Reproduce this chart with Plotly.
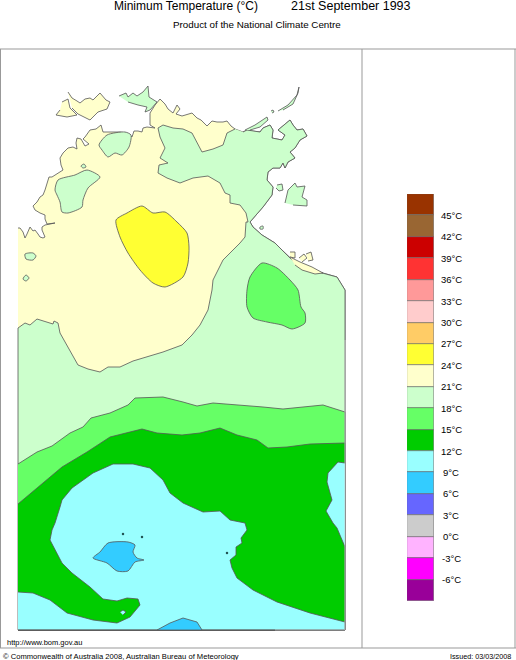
import plotly.graph_objects as go

# map regions, x/y in image pixels of the map sheet
coast_west = [(18,228),(20,228),(23,232),(25,238),(27,234),(30,227),(33,231),(35,230),(38,234),(40,237),(43,238),(45,237),(42,230),(42,227),(45,225),(50,224),(55,223),(47,224),(45,219),(45,215),(40,213),(35,210),(33,206),(37,202),(40,197),(43,195),(45,190),(49,177),(52,177),(58,173),(63,170),(61,165),(60,158),(63,153),(68,148),(73,147),(77,149),(76,143),(77,138),(81,139),(85,146),(89,144),(83,139),(85,137),(90,130),(96,129),(101,125),(103,132),(112,132),(120,132),(126,133),(130,135),(132,137),(134,131),(138,131),(142,132),(143,128),(147,127),(155,128),(150,125),(150,113),(155,105),(160,99),(165,104),(168,109),(173,113),(177,105),(180,109),(176,114),(182,116),(192,113),(197,118),(201,120),(207,126),(212,121),(217,122),(223,122),(227,121),(231,126),(235,129)]
coast_east = [(235,129),(243,132),(247,130),(252,131),(260,132),(263,128),(270,125),(273,130),(272,138),(282,140),(285,135),(278,130),(284,125),(290,120),(293,125),(297,130),(303,129),(307,136),(300,140),(295,148),(290,152),(295,158),(288,162),(285,168),(283,163),(280,168),(273,168),(268,172),(267,180),(273,187),(272,195),(263,207),(250,222),(253,227),(262,235),(275,243),(282,250),(290,258),(300,267),(323,273),(337,277),(345,290)]
green_north_edge = [(235,129),(227,133),(223,145),(213,149),(202,152),(197,143),(192,133),(183,129),(173,128),(163,125),(158,128),(160,137),(165,148),(160,158),(168,163),(159,165),(158,173),(167,178),(180,183),(193,178),(208,176),(220,183),(225,193),(230,195),(230,203),(240,205),(246,213),(248,222)]
green_south_edge = [(246,222),(245,237),(240,243),(233,250),(223,260),(213,280),(212,290),(208,310),(200,325),(192,335),(182,345),(163,352),(133,361),(120,367),(108,367),(100,372),(88,369),(78,365),(68,348),(60,333),(58,323),(54,321),(53,324),(37,319),(30,325),(25,323),(18,328)]
yellow_patch = [(116,220),(127,213),(142,206),(153,213),(165,212),(177,222),(187,233),(189,247),(188,263),(183,277),(165,287),(153,283),(140,270),(128,253),(120,237)]
kakadu_patch = [(99,145),(107,135),(125,132),(131,135),(129,147),(122,155),(115,153),(108,157),(102,150)]
daly_patch = [(55,190),(58,180),(75,175),(87,170),(100,177),(88,188),(83,200),(82,207),(68,213),(62,212),(60,202),(57,195)]
barkly_patch = [(247,290),(250,277),(262,263),(277,268),(290,280),(298,290),(301,307),(305,313),(305,323),(292,329),(282,325),(267,322),(253,318),(247,307)]
gulf_strip = [(290,257),(300,262),(312,267),(323,273),(315,274),(302,270),(295,265)]
melville = [(68,92),(72,98),(77,101),(80,103),(85,99),(90,98),(93,100),(100,93),(106,100),(110,102),(107,109),(98,112),(90,120),(78,114),(72,108)]
bathurst = [(62,102),(68,99),(70,108),(77,115),(67,117),(56,115),(60,110)]
cobourg = [(119,96),(126,93),(128,97),(133,93),(137,96),(143,92),(148,86),(149,97),(157,102),(150,110),(145,112),(147,107),(138,105),(128,102)]
wessel = [(278,111),(288,105),(297,95),(299,87),(298,93),(293,104),(283,110)]
crocodile = [(245,130),(255,125),(267,117),(268,120),(260,127),(250,130)]
north_isle = [(271,111),(273,110),(274,112),(272,113)]
groote = [(285,203),(288,190),(295,183),(297,187),(305,186),(302,197),(307,200),(307,206),(293,205)]
bickerton = [(277,185),(282,184),(283,190),(279,191),(276,188)]
west_islet_a = [(25,254),(33,253),(36,256),(33,260),(26,259)]
west_islet_b = [(23,279),(26,275),(29,278),(26,281)]
pellew_a = [(290,252),(295,252),(295,258),(290,257)]
pellew_b = [(299,258),(304,254),(307,258),(302,262)]
pellew_c = [(306,254),(311,252),(313,260),(308,261)]
daly_islet = [(81,166),(84,164),(86,167),(83,168)]
small_isle = [(260,227),(263,226),(263,229),(260,229)]
band_18_edge = [(18,464),(37,452),(52,446),(70,433),(83,427),(91,418),(110,413),(128,405),(135,398),(163,397),(183,402),(197,406),(213,403),(240,405),(263,407),(283,409),(300,407),(323,405),(345,412)]
band_15_edge = [(18,504),(38,487),(62,467),(87,452),(110,437),(142,429),(157,433),(182,435),(200,433),(220,428),(237,435),(257,440),(268,448),(287,447),(310,444),(345,443)]
cyan_main = [(18,592),(33,593),(50,600),(67,613),(93,620),(117,623),(130,617),(140,605),(138,599),(127,598),(117,601),(103,599),(90,587),(72,573),(62,563),(55,550),(50,540),(52,530),(55,523),(60,507),(62,500),(72,488),(93,473),(113,464),(133,464),(150,468),(163,480),(170,493),(183,503),(203,512),(220,511),(230,520),(245,523),(247,530),(245,533),(241,538),(242,543),(236,547),(236,555),(230,560),(232,568),(237,578),(253,590),(277,602),(310,613),(345,622),(345,630),(18,630)]
cyan_east = [(345,463),(338,462),(328,473),(327,482),(332,500),(326,511),(333,523),(337,528),(345,547)]
cyan_hole = [(120,612),(123,610),(126,612),(123,615)]
blue_patch = [(93,558),(100,552),(108,543),(128,542),(135,545),(133,552),(137,558),(144,560),(135,562),(128,571),(117,571),(107,563)]
blue_south = [(157,630),(170,623),(183,618),(197,622),(202,630)]
dots_x = [123, 142, 227]
dots_y = [534, 537, 553]

# colour scale, top band first
band_low = [45, 42, 39, 36, 33, 30, 27, 24, 21, 18, 15, 12, 9, 6, 3, 0, -3, -6, -9]
band_colors = ["#993300", "#996633", "#cc0000", "#ff3333", "#ff9999", "#ffcccc", "#ffcc66", "#ffff33", "#ffffcc",
               "#ccffcc", "#66ff66", "#00cc00", "#99ffff", "#33ccff", "#6666ff", "#cccccc", "#ffb3ff", "#ff00ff", "#990099"]
tick_values = [45, 42, 39, 36, 33, 30, 27, 24, 21, 18, 15, 12, 9, 6, 3, 0, -3, -6]
tick_labels = ["45°C", "42°C", "39°C", "36°C", "33°C", "30°C", "27°C", "24°C", "21°C", "18°C", "15°C", "12°C", "9°C", "6°C", "3°C", "0°C", "-3°C", "-6°C"]

PALE = "#ffffcc"
LIGHT = "#ccffcc"
MID = "#66ff66"
GREEN = "#00cc00"
CYAN = "#99ffff"
BLUE = "#33ccff"
YELLOW = "#ffff33"

mainland = coast_west + coast_east + [(345,630),(18,630)]
green_main = green_north_edge + green_south_edge + [(18,630),(345,630)] + coast_east[::-1][:-1]
# (points, colour, smooth contour or not)
layers = [
    (mainland, PALE, False), (green_main, LIGHT, False),
    (melville, PALE, False), (bathurst, PALE, False), (cobourg, LIGHT, False), (wessel, LIGHT, False),
    (crocodile, LIGHT, False), (north_isle, LIGHT, False), (groote, LIGHT, False),
    (bickerton, LIGHT, False), (west_islet_a, LIGHT, True), (west_islet_b, LIGHT, True), (pellew_a, PALE, False),
    (pellew_b, PALE, False), (pellew_c, PALE, False), (daly_islet, LIGHT, True), (small_isle, LIGHT, True),
    (gulf_strip, PALE, False),
    (kakadu_patch, LIGHT, True), (daly_patch, LIGHT, True), (yellow_patch, YELLOW, True), (barkly_patch, MID, True),
    (band_18_edge + [(345,630),(18,630)], MID, False), (band_15_edge + [(345,630),(18,630)], GREEN, False),
    (cyan_main, CYAN, False), (cyan_east, CYAN, False), (blue_patch, BLUE, True), (blue_south, BLUE, False),
    (cyan_hole, CYAN, False),
]

fig = go.Figure()
for points, colour, smooth in layers:
    xs = [p[0] for p in points]
    ys = [p[1] for p in points]
    if smooth:
        # spline needs the ring closed to round its last corner too
        xs = xs + xs[:1]
        ys = ys + ys[:1]
        line = dict(color="#555555", width=0.8, shape="spline", smoothing=0.7)
    else:
        line = dict(color="#555555", width=0.8)
    fig.add_trace(go.Scatter(x=xs, y=ys, mode="lines", fill="toself", fillcolor=colour,
                             line=line, hoverinfo="skip", showlegend=False))

fig.add_trace(go.Scatter(x=dots_x, y=dots_y, mode="markers", marker=dict(color="#225555", size=2.5),
                         hoverinfo="skip", showlegend=False))

fig.add_trace(go.Bar(x=["scale"] * len(band_low), y=[3] * len(band_low), base=band_low,
                     marker=dict(color=band_colors, line=dict(color="#666666", width=0.6)),
                     xaxis="x2", yaxis="y2", hoverinfo="skip", showlegend=False))

font_name = "Liberation Sans"
notes = [
    (112, 6, "Minimum Temperature (°C)", 12, "left"),
    (289, 6, "21st September 1993", 12.5, "left"),
    (257, 24, "Product of the National Climate Centre", 9.8, "center"),
    (5, 642, "http://www.bom.gov.au", 7.5, "left"),
    (1, 656, "© Commonwealth of Australia 2008, Australian Bureau of Meteorology", 7.6, "left"),
    (513, 656, "Issued: 03/03/2008", 7.2, "right"),
]
annotations = [dict(x=x, y=y, xref="x", yref="y", text=t, showarrow=False, xanchor=a, yanchor="middle",
                    font=dict(family=font_name, size=s, color="#000000")) for x, y, t, s, a in notes]
for v, label in zip(tick_values, tick_labels):
    annotations.append(dict(x=451, y=v, xref="x", yref="y2", text=label, showarrow=False, xanchor="center",
                            yanchor="middle", font=dict(family=font_name, size=9.5, color="#000000")))

frame = [
    (0, 49, 516, 49), (0, 648, 516, 648), (0.5, 49, 0.5, 648), (362, 49, 362, 648), (515, 49, 515, 648),
]
shapes = [dict(type="line", xref="x", yref="y", x0=a, y0=b, x1=c, y1=d, line=dict(color="#999999", width=1)) for a, b, c, d in frame]
shapes.append(dict(type="line", xref="x", yref="y", x0=18, y0=630, x1=275, y1=630, line=dict(color="#555555", width=0.8)))
shapes.append(dict(type="line", xref="x", yref="y", x0=275, y0=630, x1=345, y1=630, line=dict(color="#aaaaaa", width=0.8)))
shapes.append(dict(type="line", xref="x", yref="y", x0=345, y0=340, x1=345, y1=630, line=dict(color="#cccccc", width=0.8)))

fig.update_layout(
    width=516, height=660, margin=dict(l=0, r=0, t=0, b=0),
    paper_bgcolor="#ffffff", plot_bgcolor="#ffffff",
    barmode="overlay", bargap=0,
    xaxis=dict(range=[0, 516], visible=False, domain=[0, 1]),
    yaxis=dict(range=[660, 0], visible=False, domain=[0, 1]),
    xaxis2=dict(domain=[407 / 516, 434 / 516], anchor="y2", visible=False),
    yaxis2=dict(domain=[59 / 660, 466 / 660], range=[-9, 48], anchor="x2", visible=False),
    annotations=annotations, shapes=shapes,
)

fig.write_html("out.html", config=dict(displayModeBar=False), post_script="document.body.style.margin='0';")
